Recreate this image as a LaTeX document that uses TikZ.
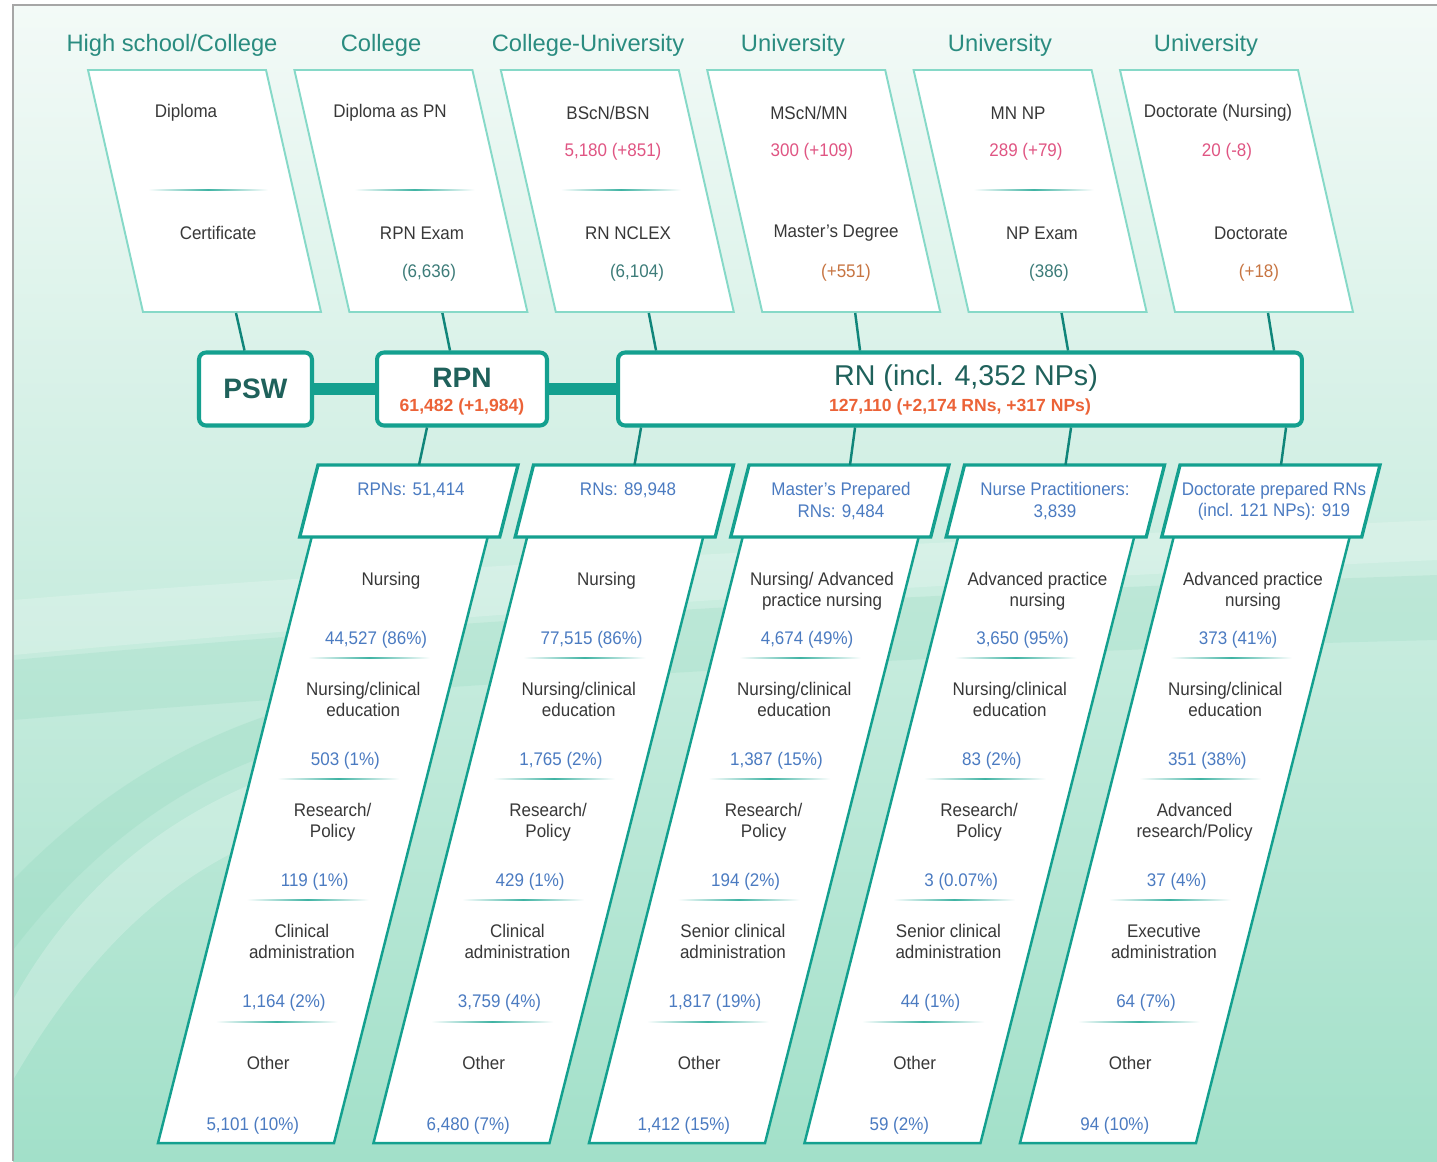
\documentclass[tikz,border=0pt]{standalone}
\usepackage{fontspec}
\setmainfont{Liberation Sans}
\newfontfamily\condfont{Liberation Sans}[FakeStretch=0.93,Ligatures=TeX]
\usetikzlibrary{calc}
\definecolor{tealA}{HTML}{14A08F}
\definecolor{linkteal}{HTML}{10857A}
\definecolor{boxline}{HTML}{86D9C8}
\definecolor{headteal}{HTML}{2A8C80}
\definecolor{darkteal}{HTML}{1F615B}
\definecolor{txtgray}{HTML}{383838}
\definecolor{numblue}{HTML}{4B7BC1}
\definecolor{pinknum}{HTML}{E05583}
\definecolor{brownnum}{HTML}{C77542}
\definecolor{tealnum}{HTML}{3D7C79}
\definecolor{countred}{HTML}{EC6338}
\definecolor{divline}{HTML}{3FB3A3}
\definecolor{mintA}{HTML}{F3FAF7}
\definecolor{mintB}{HTML}{CDEEE1}
\definecolor{mintC}{HTML}{A2E0C9}
\definecolor{mintD}{HTML}{8CD6BA}
\newcommand\softline[3]{\shade[left color=white,right color=white,middle color=divline] ({#1-#3},#2-0.9) rectangle ({#1+#3},#2+0.9);}

\begin{document}
\begin{tikzpicture}[x=0.02cm,y=-0.02cm,
    head/.style={font=\fontsize{13.5}{16}\selectfont,text=headteal},
    txt/.style={font=\condfont\fontsize{10.4}{12}\selectfont,text=txtgray,align=center},
    numb/.style={txt,text=numblue},
    topbox/.style={draw=boxline,line width=1.1pt,fill=white},
    catbox/.style={draw=tealA,line width=1.9pt,fill=white},
    colbox/.style={draw=tealA,line width=1.4pt,fill=white},
    grade/.style={draw=tealA,line width=2.3pt,rounded corners=4pt,fill=white,minimum height=1.46cm},
    link/.style={draw=linkteal,line width=1.4pt},
    bar/.style={draw=tealA,line width=6.3pt},
    count/.style={font=\fontsize{10}{12}\selectfont\bfseries,text=countred}]
    \tikzstyle{every node}+=[inner sep=0pt]
    \useasboundingbox (0,0) rectangle (1437,1161);
    \shade[top color=mintA,middle color=mintB,bottom color=mintC] (13,5) rectangle (1437,1161);
    \fill[white,opacity=.2] (13,600) .. controls (500,560) and (1000,540) .. (1437,520) -- (1437,560) .. controls (1000,580) and (500,610) .. (13,655) -- cycle;
    \fill[mintD,opacity=.22] (13,660) .. controls (500,615) and (1000,590) .. (1437,575) -- (1437,640) .. controls (1000,650) and (500,680) .. (13,720) -- cycle;
    \fill[mintD,opacity=.25] (13,880) .. controls (100,790) and (200,730) .. (320,700) -- (320,740) .. controls (190,770) and (90,850) .. (13,950) -- cycle;
    \fill[white,opacity=.22] (13,1000) .. controls (80,880) and (180,800) .. (320,760) -- (320,820) .. controls (200,850) and (100,930) .. (13,1080) -- cycle;
    \draw[black!35,line width=0.8pt] (13,1161) -- (13,5) -- (1437,5);

    \node[head] (hs0) at (172,45.5) {High school/College};
    \node[head] (hs1) at (381,45.5) {College};
    \node[head] (hs2) at (588,45.5) {College-University};
    \node[head] (hs3) at (793,45.5) {University};
    \node[head] (hs4) at (1000,45.5) {University};
    \node[head] (hs5) at (1206,45.5) {University};

    \foreach \j in {0,...,5}{
        \pgfmathsetmacro\xl{88+206.4*\j}
        \draw[topbox] (\xl,70) -- ++(178,0) -- ++(55,242) -- ++(-178,0) -- cycle;
        \coordinate (tb\j) at (\xl+148,313);
    }
    \foreach \j in {0,1,2,4}{
        \pgfmathsetmacro\xl{88+206.4*\j}
        \softline{\xl+120}{190}{60}
    }

    \node[txt] (t0a) at (186,113) {Diploma};
    \node[txt] (t0c) at (218,233) {Certificate};
    \node[txt] (t1a) at (390,113) {Diploma as PN};
    \node[txt] (t1c) at (422,233) {RPN Exam};
    \node[txt,text=tealnum] (t1d) at (429,273) {(6,636)};
    \node[txt] (t2a) at (608,113) {BScN/BSN};
    \node[txt,text=pinknum] (t2b) at (613,152) {5,180 (+851)};
    \node[txt] (t2c) at (628,233) {RN NCLEX};
    \node[txt,text=tealnum] (t2d) at (637,273) {(6,104)};
    \node[txt] (t3a) at (809,113) {MScN/MN};
    \node[txt,text=pinknum] (t3b) at (812,152) {300 (+109)};
    \node[txt] (t3c) at (836,233) {Master's Degree};
    \node[txt,text=brownnum] (t3d) at (846,273) {(+551)};
    \node[txt] (t4a) at (1018,113) {MN NP};
    \node[txt,text=pinknum] (t4b) at (1026,152) {289 (+79)};
    \node[txt] (t4c) at (1042,233) {NP Exam};
    \node[txt,text=tealnum] (t4d) at (1049,273) {(386)};
    \node[txt] (t5a) at (1218,113) {Doctorate (Nursing)};
    \node[txt,text=pinknum] (t5b) at (1227,152) {20 (-8)};
    \node[txt] (t5c) at (1251,233) {Doctorate};
    \node[txt,text=brownnum] (t5d) at (1259,273) {(+18)};

    \node[grade,minimum width=2.26cm] (psw) at (255.5,389) {};
    \node[grade,minimum width=3.4cm] (rpn) at (462,389) {};
    \node[grade,minimum width=13.68cm] (rn) at (960,389) {};
    \draw[bar] (psw) -- (rpn);
    \draw[bar] (rpn) -- (rn);
    \node[font=\fontsize{16}{18}\selectfont\bfseries,text=darkteal] (pswl) at (psw) {PSW};
    \node[font=\fontsize{16}{18}\selectfont\bfseries,text=darkteal] (rpnl) at (462,378) {RPN};
    \node[count] (rpnc) at (462,407) {61,482 (+1,984)};
    \node[font=\fontsize{16.3}{18}\selectfont,text=darkteal] (rnl) at (966,378) {RN (incl. 4,352 NPs)};
    \node[count] (rnc) at (960,407) {127,110 (+2,174 RNs, +317 NPs)};

    \draw[link] (tb0) -- ($(psw.north)+(-11,0)$);
    \draw[link] (tb1) -- ($(rpn.north)+(-12,0)$);
    \draw[link] (tb2) -- ($(rn.north west)+(40,0)$);
    \draw[link] (tb3) -- ($(rn.north west)+(244,0)$);
    \draw[link] (tb4) -- ($(rn.north west)+(452,0)$);
    \draw[link] (tb5) -- ($(rn.north west)+(658,0)$);

    \foreach \i in {0,...,4}{
        \pgfmathsetmacro\cx{399.7+215.5*\i}
        \draw[colbox] (\cx+88,537) -- (\cx-65.7,1143) -- (\cx-241.7,1143) -- (\cx-88,537);
        \draw[catbox] (\cx-81.7,465) -- ++(200,0) -- ++(-18.3,72) -- ++(-200,0) -- cycle;
        \coordinate (hd\i) at (\cx+19.3,465);
        \softline{\cx-30.7}{658}{61}
        \softline{\cx-61.4}{779}{61}
        \softline{\cx-92.1}{900}{61}
        \softline{\cx-123}{1022}{61}
    }
    \draw[link] ($(rpn.south)+(-35,0)$) -- (hd0);
    \draw[link] ($(rn.south west)+(25,0)$) -- (hd1);
    \draw[link] ($(rn.south west)+(239,0)$) -- (hd2);
    \draw[link] ($(rn.south west)+(455,0)$) -- (hd3);
    \draw[link] ($(rn.south west)+(670,0)$) -- (hd4);

    \node[numb] (g0) at (411,490) {RPNs: 51,414};
    \node[numb] (g1) at (628,490) {RNs: 89,948};
    \node[numb] (g2) at (841,501) {Master's Prepared\\RNs: 9,484};
    \node[numb] (g3) at (1055,501) {Nurse Practitioners:\\3,839};
    \node[numb] (g4) at (1274,501) {Doctorate prepared RNs\\(incl. 121 NPs): 919};

    \foreach \i/\la/\na/\lb/\nb/\lc/\nc/\ld/\nd/\le/\ne in {
        0/{Nursing}/{44,527 (86\%)}/{Nursing/clinical\\education}/{503 (1\%)}/{Research/\\Policy}/{119 (1\%)}/{Clinical\\administration}/{1,164 (2\%)}/{Other}/{5,101 (10\%)},
        1/{Nursing}/{77,515 (86\%)}/{Nursing/clinical\\education}/{1,765 (2\%)}/{Research/\\Policy}/{429 (1\%)}/{Clinical\\administration}/{3,759 (4\%)}/{Other}/{6,480 (7\%)},
        2/{Nursing/ Advanced\\practice nursing}/{4,674 (49\%)}/{Nursing/clinical\\education}/{1,387 (15\%)}/{Research/\\Policy}/{194 (2\%)}/{Senior clinical\\administration}/{1,817 (19\%)}/{Other}/{1,412 (15\%)},
        3/{Advanced practice\\nursing}/{3,650 (95\%)}/{Nursing/clinical\\education}/{83 (2\%)}/{Research/\\Policy}/{3 (0.07\%)}/{Senior clinical\\administration}/{44 (1\%)}/{Other}/{59 (2\%)},
        4/{Advanced practice\\nursing}/{373 (41\%)}/{Nursing/clinical\\education}/{351 (38\%)}/{Advanced\\research/Policy}/{37 (4\%)}/{Executive\\administration}/{64 (7\%)}/{Other}/{94 (10\%)}}{
        \pgfmathsetmacro\cx{401.7+215.5*\i}
        \node[txt,anchor=north] (c\i-la) at (\cx-10.7,572) {\la};
        \node[numb] (c\i-na) at (\cx-25.6,640) {\na};
        \node[txt,anchor=north] (c\i-lb) at (\cx-38.4,682) {\lb};
        \node[numb] (c\i-nb) at (\cx-56.3,761) {\nb};
        \node[txt,anchor=north] (c\i-lc) at (\cx-69.1,803) {\lc};
        \node[numb] (c\i-nc) at (\cx-87,882) {\nc};
        \node[txt,anchor=north] (c\i-ld) at (\cx-99.8,924) {\ld};
        \node[numb] (c\i-nd) at (\cx-117.7,1003) {\nd};
        \node[txt,anchor=north] (c\i-le) at (\cx-133.5,1056) {\le};
        \node[numb] (c\i-ne) at (\cx-148.9,1126) {\ne};
    }
\end{tikzpicture}
\end{document}
